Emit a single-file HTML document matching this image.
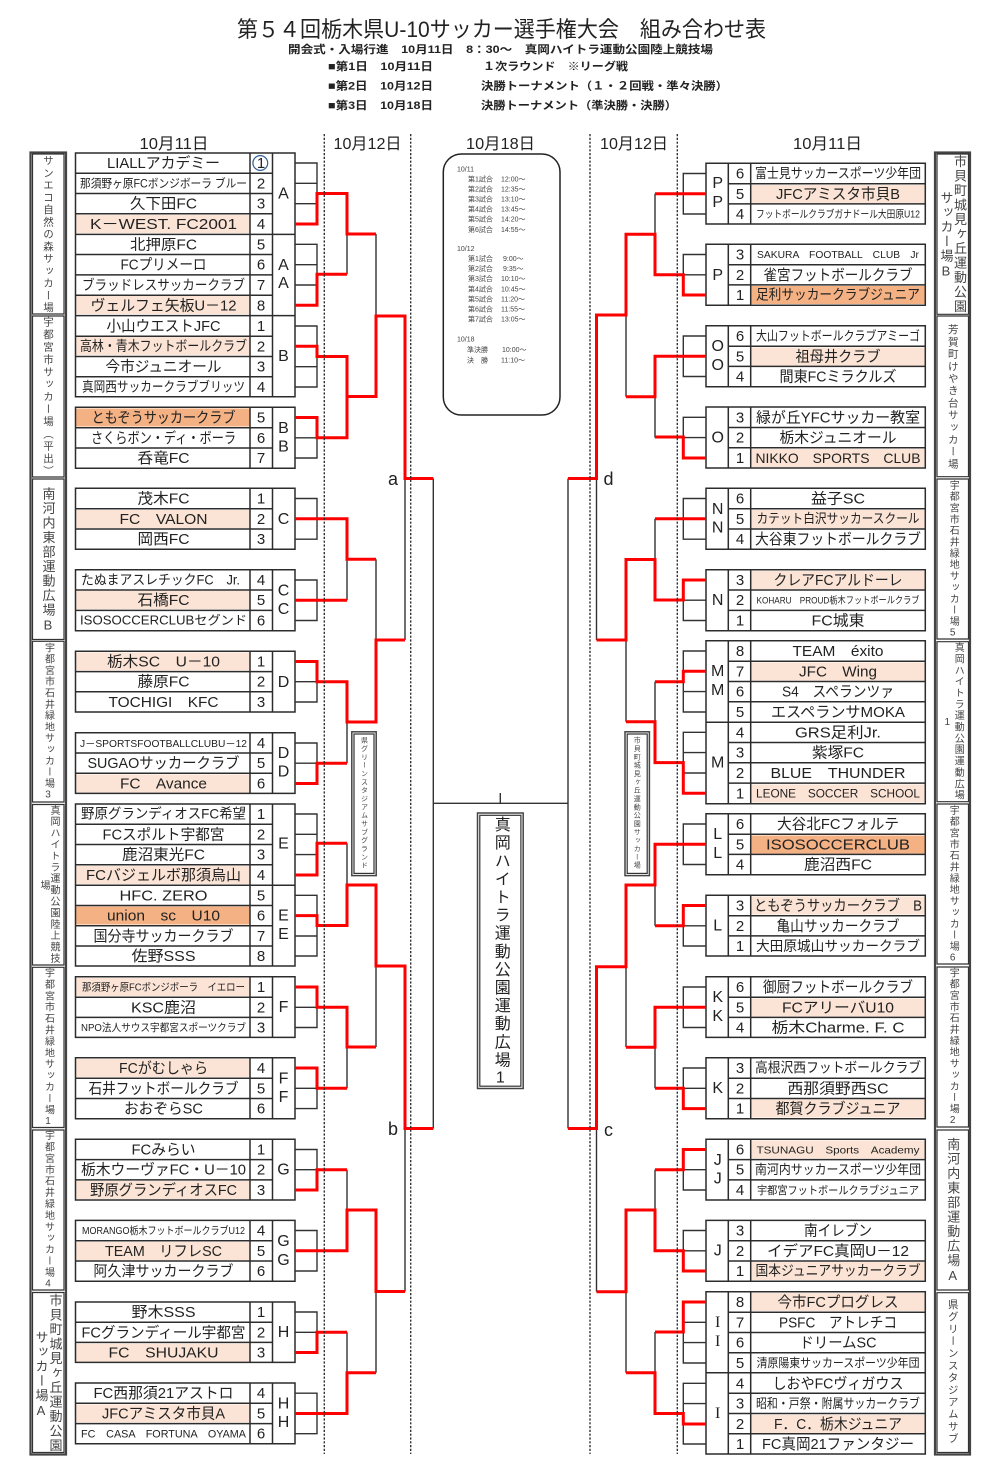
<!DOCTYPE html>
<html lang="ja"><head><meta charset="utf-8"><title>第54回栃木県U-10サッカー選手権大会 組み合わせ表</title>
<style>
html,body{margin:0;padding:0;background:#fff}
svg{display:block;font-family:"Liberation Sans","Noto Sans CJK JP",sans-serif}
text{fill:#222}
.c text{text-anchor:middle}
.b text{font-weight:700}
.v{writing-mode:vertical-rl;text-orientation:upright;fill:#444}
.k{fill:none;stroke:#333;stroke-width:1.4}
.r{fill:none;stroke:#f00;stroke-width:3}
.t{fill:none;stroke:#2c2c2c;stroke-width:1.5}
.d{stroke:#333;stroke-width:1.4;stroke-dasharray:2.2 1.6}
.s text{fill:#444}
</style></head><body>
<svg xmlns="http://www.w3.org/2000/svg" width="1000" height="1478" viewBox="0 0 1000 1478">
<rect width="1000" height="1478" fill="#fff"/>

<!-- header -->
<text x="237" y="37" font-size="22" textLength="529" lengthAdjust="spacingAndGlyphs">第５４回栃木県U-10サッカー選手権大会　組み合わせ表</text>
<g class="b" font-size="11">
<text x="288" y="53" textLength="425" lengthAdjust="spacingAndGlyphs">開会式・入場行進　10月11日　8：30～　真岡ハイトラ運動公園陸上競技場</text>
<text x="328" y="70" textLength="105" lengthAdjust="spacingAndGlyphs">■第1日　10月11日</text>
<text x="483" y="70" textLength="145" lengthAdjust="spacingAndGlyphs">１次ラウンド　※リーグ戦</text>
<text x="328" y="89.5" textLength="105" lengthAdjust="spacingAndGlyphs">■第2日　10月12日</text>
<text x="481" y="89.5" textLength="247" lengthAdjust="spacingAndGlyphs">決勝トーナメント（１・２回戦・準々決勝）</text>
<text x="328" y="109" textLength="105" lengthAdjust="spacingAndGlyphs">■第3日　10月18日</text>
<text x="481" y="109" textLength="196" lengthAdjust="spacingAndGlyphs">決勝トーナメント（準決勝・決勝）</text>
</g>
<g font-size="16">
<text x="139.5" y="149" textLength="69" lengthAdjust="spacingAndGlyphs">10月11日</text>
<text x="333.5" y="149" textLength="68" lengthAdjust="spacingAndGlyphs">10月12日</text>
<text x="466" y="149" textLength="69" lengthAdjust="spacingAndGlyphs">10月18日</text>
<text x="600" y="149" textLength="68" lengthAdjust="spacingAndGlyphs">10月12日</text>
<text x="793" y="149" textLength="69" lengthAdjust="spacingAndGlyphs">10月11日</text>
</g>

<!-- row fills -->
<g fill="#fbe4d5">
<rect x="76" y="215" width="174" height="18"/><rect x="76" y="296" width="174" height="18"/><rect x="76" y="337" width="174" height="18"/>
<rect x="76" y="510" width="174" height="18"/><rect x="76" y="591" width="174" height="18"/><rect x="76" y="652.5" width="174" height="18"/>
<rect x="76" y="774.5" width="174" height="18"/><rect x="76" y="866" width="174" height="18"/><rect x="76" y="978" width="174" height="18"/>
<rect x="76" y="1059" width="174" height="18"/><rect x="76" y="1181" width="174" height="18"/><rect x="76" y="1242" width="174" height="18"/>
<rect x="76" y="1343.5" width="174" height="18"/><rect x="76" y="1404.5" width="174" height="18"/>
<rect x="751" y="185" width="174" height="18"/><rect x="751" y="347.5" width="174" height="18"/><rect x="751" y="449" width="174" height="18"/>
<rect x="751" y="510" width="174" height="18"/><rect x="751" y="571" width="174" height="18"/><rect x="751" y="662.5" width="174" height="18"/>
<rect x="751" y="784.5" width="174" height="18"/><rect x="751" y="896.5" width="174" height="18"/><rect x="751" y="998.5" width="174" height="18"/>
<rect x="751" y="1099.5" width="174" height="18"/><rect x="751" y="1140.5" width="174" height="18"/><rect x="751" y="1262" width="174" height="18"/>
<rect x="751" y="1293" width="174" height="18"/><rect x="751" y="1415" width="174" height="18"/>
</g>
<g fill="#f4b183">
<rect x="76" y="408.5" width="174" height="18"/><rect x="76" y="906.5" width="174" height="18"/>
<rect x="751" y="286" width="174" height="18"/><rect x="751" y="835.5" width="174" height="18"/>
</g>

<!-- tables left -->
<path class="t" d="M75.5 153H295V315.6H75.5ZM75.5 234.4H295M250 153V315.6M272.5 153V315.6M75.5 173.2H272.5M75.5 193.5H272.5M75.5 213.8H272.5M75.5 254.5H272.5M75.5 274.9H272.5M75.5 295.2H272.5
M75.5 315.6H295V396.7H75.5ZM250 315.6V396.7M272.5 315.6V396.7M75.5 336.2H272.5M75.5 356.5H272.5M75.5 376.8H272.5
M75.5 407.3H295V468.3H75.5ZM250 407.3V468.3M272.5 407.3V468.3M75.5 427.7H272.5M75.5 448H272.5
M75.5 488.3H295V549.3H75.5ZM250 488.3V549.3M272.5 488.3V549.3M75.5 508.7H272.5M75.5 529H272.5
M75.5 569.8H295V630.7H75.5ZM250 569.8V630.7M272.5 569.8V630.7M75.5 590H272.5M75.5 610.4H272.5
M75.5 651.3H295V712H75.5ZM250 651.3V712M272.5 651.3V712M75.5 671.6H272.5M75.5 691.8H272.5
M75.5 732.8H295V793.4H75.5ZM250 732.8V793.4M272.5 732.8V793.4M75.5 753H272.5M75.5 773.3H272.5
M75.5 804H295V966H75.5ZM75.5 885.2H295M250 804V966M272.5 804V966M75.5 824.2H272.5M75.5 844.5H272.5M75.5 864.8H272.5M75.5 905.5H272.5M75.5 925.8H272.5M75.5 946H272.5
M75.5 976.8H295V1037.4H75.5ZM250 976.8V1037.4M272.5 976.8V1037.4M75.5 997.2H272.5M75.5 1017.4H272.5
M75.5 1057.8H295V1118.7H75.5ZM250 1057.8V1118.7M272.5 1057.8V1118.7M75.5 1078.2H272.5M75.5 1098.5H272.5
M75.5 1139.3H295V1200H75.5ZM250 1139.3V1200M272.5 1139.3V1200M75.5 1159.6H272.5M75.5 1179.9H272.5
M75.5 1220.4H295V1281.3H75.5ZM250 1220.4V1281.3M272.5 1220.4V1281.3M75.5 1240.7H272.5M75.5 1261H272.5
M75.5 1302H295V1362.4H75.5ZM250 1302V1362.4M272.5 1302V1362.4M75.5 1322.2H272.5M75.5 1342.4H272.5
M75.5 1383H295V1443.7H75.5ZM250 1383V1443.7M272.5 1383V1443.7M75.5 1403.3H272.5M75.5 1423.6H272.5"/>

<!-- tables right -->
<path class="t" d="M706 163.3H925.3V224H706ZM728.3 163.3V224M750.7 163.3V224M728.3 183.7H925.3M728.3 203.9H925.3
M706 244.3H925.3V305.3H706ZM728.3 244.3V305.3M750.7 244.3V305.3M728.3 264.7H925.3M728.3 284.9H925.3
M706 325.7H925.3V386.7H706ZM728.3 325.7V386.7M750.7 325.7V386.7M728.3 346.2H925.3M728.3 366.4H925.3
M706 407H925.3V468H706ZM728.3 407V468M750.7 407V468M728.3 427.5H925.3M728.3 447.8H925.3
M706 488.3H925.3V549.3H706ZM728.3 488.3V549.3M750.7 488.3V549.3M728.3 508.7H925.3M728.3 529H925.3
M706 569.8H925.3V630.7H706ZM728.3 569.8V630.7M750.7 569.8V630.7M728.3 590H925.3M728.3 610.4H925.3
M706 640.8H925.3V803.7H706ZM706 722.2H925.3M728.3 640.8V803.7M750.7 640.8V803.7M728.3 661.2H925.3M728.3 681.5H925.3M728.3 701.8H925.3M728.3 742.5H925.3M728.3 762.8H925.3M728.3 783.1H925.3
M706 813.8H925.3V874.7H706ZM728.3 813.8V874.7M750.7 813.8V874.7M728.3 834.2H925.3M728.3 854.4H925.3
M706 895.3H925.3V956H706ZM728.3 895.3V956M750.7 895.3V956M728.3 915.7H925.3M728.3 935.9H925.3
M706 976.8H925.3V1037.4H706ZM728.3 976.8V1037.4M750.7 976.8V1037.4M728.3 997.2H925.3M728.3 1017.4H925.3
M706 1057.8H925.3V1118.7H706ZM728.3 1057.8V1118.7M750.7 1057.8V1118.7M728.3 1078.2H925.3M728.3 1098.5H925.3
M706 1139.3H925.3V1200H706ZM728.3 1139.3V1200M750.7 1139.3V1200M728.3 1159.6H925.3M728.3 1179.9H925.3
M706 1220.4H925.3V1281.3H706ZM728.3 1220.4V1281.3M750.7 1220.4V1281.3M728.3 1240.7H925.3M728.3 1261H925.3
M706 1291.7H925.3V1454H706ZM706 1372.8H925.3M728.3 1291.7V1454M750.7 1291.7V1454M728.3 1312.2H925.3M728.3 1332.5H925.3M728.3 1352.8H925.3M728.3 1393.2H925.3M728.3 1413.5H925.3M728.3 1433.8H925.3"/>

<!-- black bracket lines -->
<path class="k" d="M295 163H317V224H295M295 183.3H317M295 203.7H317
M295 244.3H317V305.3H295M295 264.7H317M295 285H317
M295 326H317V387H295M295 346.3H317M295 366.7H317
M295 417.5H317V458H295M295 437.8H317
M295 498.5H317V539.2H295M295 518.8H317
M295 580H317V620.5H295M295 600.2H317
M295 661.5H317V702H295M295 681.7H317
M295 743H317V783.5H295M295 763.2H317
M295 814H317V875H295M295 834.3H317M295 854.6H317
M295 895.3H317V956H295M295 915.6H317M295 936H317
M295 987H317V1027.5H295M295 1007.3H317
M295 1068H317V1108.6H295M295 1088.3H317
M295 1149.5H317V1190H295M295 1169.7H317
M295 1230.5H317V1271H295M295 1250.8H317
M295 1312H317V1352.5H295M295 1332.3H317
M295 1393.2H317V1433.7H295M295 1413.5H317
M347 193.5V274.3M347 356.5V437.8M347 518.8V600.2M347 681.7V763.2M347 843.3V925.5M347 1007.3V1088.3M347 1169.7V1250.8M347 1332.3V1413.5
M376 234V396.5M376 559.3V722M376 885V1047M376 1210V1372.7
M405 316V640M405 966V1291.5
M433.3 478.5V1128.5M568 478.5V1128.5M433.3 803.3H568M500.3 793V803.3
M706 173.5H683.3V214H706M706 193.8H683.3
M706 254.5H683.3V295H706M706 274.8H683.3
M706 336H683.3V376.5H706M706 356.3H683.3
M706 417.3H683.3V458H706M706 437.6H683.3
M706 498.5H683.3V539.2H706M706 518.8H683.3
M706 580H683.3V620.5H706M706 600.2H683.3
M706 651H683.3V712H706M706 671.3H683.3M706 691.6H683.3
M706 732.3H683.3V793.3H706M706 752.6H683.3M706 773H683.3
M706 824H683.3V864.5H706M706 844.3H683.3
M706 905.5H683.3V946H706M706 925.8H683.3
M706 987H683.3V1027.5H706M706 1007.3H683.3
M706 1068H683.3V1108.6H706M706 1088.3H683.3
M706 1149.5H683.3V1190H706M706 1169.7H683.3
M706 1230.5H683.3V1271H706M706 1250.8H683.3
M706 1302H683.3V1363H706M706 1322.3H683.3M706 1342.6H683.3
M706 1383.3H683.3V1444H706M706 1403.6H683.3M706 1424H683.3
M655 193.8V274.8M655 356.3V437.6M655 518.8V600.2M655 681.7V762.6M655 844.3V925.8M655 1007.3V1088.3M655 1169.7V1250.8M655 1332V1413.5
M626 234.3V396.7M626 559.5V721.7M626 885V1047.3M626 1210V1372.7
M596.5 315V640M596.5 966.7V1291.7"/>

<!-- red lines -->
<path class="r" d="M295 224H317V193.5H347V234H376
M295 305.3H317V274.3H347
M295 346.3H317V356.5H347V396.5H376V316H405V478.5H433.3
M295 417.5H317V437.8H347V396.5
M295 518.8H347V559.3H376
M295 600.2H347
M295 661.5H317V681.7H347V722H376V640H405
M295 783.5H317V763.2H347
M295 875H317V843.3H347
M295 915.6H317V925.5H347V885H376V966H405V1128.5H433.3
M295 987H317V1007.3H347V1047H376
M295 1068H317V1088.3H347
M295 1190H317V1169.7H347
M295 1250.8H347V1210H376V1291.5H405
M295 1352.5H317V1332.3H347
M295 1413.5H347V1372.7H376
M706 193.8H655
M706 295H683.3V274.8H655V234.3H626V315H596.5V478.5H568
M706 356.3H655V396.7H626
M706 458H683.3V437H655
M706 518.8H655
M706 580H683.3V600H655V559.5H626V640H596.5
M706 671.3H683.3V681.7H655
M706 793.3H683.3V762.6H655V721.7H626
M706 844.3H655V885H626V966.7H596.5V1128.5H568
M706 905.5H683.3V925.8H655
M706 1007.3H655V1047.3H626
M706 1108.6H683.3V1088.3H655
M706 1149.5H683.3V1169.7H655
M706 1271H683.3V1250.8H655V1210H626V1291.7H596.5
M706 1302H683.3V1332H655
M706 1424H683.3V1413.5H655V1372.7H626"/>

<!-- dotted -->
<path class="d" d="M324.3 134V1454M410.7 134V1454M590 134V1454M677.3 134V1454"/>

<!-- left names -->
<g class="c" font-size="15">
<text x="163.5" y="168" textLength="113" lengthAdjust="spacingAndGlyphs">LIALLアカデミー</text>
<text x="163.5" y="187.3" font-size="12" textLength="167" lengthAdjust="spacingAndGlyphs">那須野ヶ原FCボンジボーラ ブルー</text>
<text x="163.5" y="208.7" textLength="67" lengthAdjust="spacingAndGlyphs">久下田FC</text>
<text x="163.5" y="229" textLength="147" lengthAdjust="spacingAndGlyphs">K－WEST. FC2001</text>
<text x="163.5" y="249.3" textLength="67" lengthAdjust="spacingAndGlyphs">北押原FC</text>
<text x="163.5" y="269.7" textLength="86" lengthAdjust="spacingAndGlyphs">FCプリメーロ</text>
<text x="163.5" y="290" font-size="14" textLength="163" lengthAdjust="spacingAndGlyphs">ブラッドレスサッカークラブ</text>
<text x="163.5" y="310.3" textLength="146" lengthAdjust="spacingAndGlyphs">ヴェルフェ矢板U－12</text>
<text x="163.5" y="331" textLength="114" lengthAdjust="spacingAndGlyphs">小山ウエストJFC</text>
<text x="163.5" y="351" font-size="14" textLength="167" lengthAdjust="spacingAndGlyphs">高林・青木フットボールクラブ</text>
<text x="163.5" y="371.7" textLength="116" lengthAdjust="spacingAndGlyphs">今市ジュニオール</text>
<text x="163.5" y="391.5" font-size="13.5" textLength="163" lengthAdjust="spacingAndGlyphs">真岡西サッカークラブブリッツ</text>
<text x="163.5" y="422.5" textLength="144" lengthAdjust="spacingAndGlyphs">ともぞうサッカークラブ</text>
<text x="163.5" y="442.8" textLength="145" lengthAdjust="spacingAndGlyphs">さくらボン・ディ・ボーラ</text>
<text x="163.5" y="463" textLength="52" lengthAdjust="spacingAndGlyphs">呑竜FC</text>
<text x="163.5" y="503.5" textLength="52" lengthAdjust="spacingAndGlyphs">茂木FC</text>
<text x="163.5" y="523.8" textLength="88" lengthAdjust="spacingAndGlyphs">FC　VALON</text>
<text x="163.5" y="544.2" textLength="52" lengthAdjust="spacingAndGlyphs">岡西FC</text>
<text x="160.5" y="584.5" font-size="13.5" textLength="159" lengthAdjust="spacingAndGlyphs">たぬまアスレチックFC　Jr.</text>
<text x="163.5" y="605.2" textLength="52" lengthAdjust="spacingAndGlyphs">石橋FC</text>
<text x="163.5" y="624.5" font-size="12.5" textLength="167" lengthAdjust="spacingAndGlyphs">ISOSOCCERCLUBセグンド</text>
<text x="163.5" y="666.5" textLength="113" lengthAdjust="spacingAndGlyphs">栃木SC　U－10</text>
<text x="163.5" y="686.7" textLength="52" lengthAdjust="spacingAndGlyphs">藤原FC</text>
<text x="163.5" y="707" textLength="110" lengthAdjust="spacingAndGlyphs">TOCHIGI　KFC</text>
<text x="163.5" y="746.8" font-size="10.5" textLength="167" lengthAdjust="spacingAndGlyphs">J－SPORTSFOOTBALLCLUBU－12</text>
<text x="163.5" y="768.2" textLength="152" lengthAdjust="spacingAndGlyphs">SUGAOサッカークラブ</text>
<text x="163.5" y="788.5" textLength="87" lengthAdjust="spacingAndGlyphs">FC　Avance</text>
<text x="163.5" y="818.7" font-size="14" textLength="165" lengthAdjust="spacingAndGlyphs">野原グランディオスFC希望</text>
<text x="163.5" y="839.3" textLength="122" lengthAdjust="spacingAndGlyphs">FCスポルト宇都宮</text>
<text x="163.5" y="859.6" textLength="83" lengthAdjust="spacingAndGlyphs">鹿沼東光FC</text>
<text x="163.5" y="880" textLength="155" lengthAdjust="spacingAndGlyphs">FCバジェルボ那須烏山</text>
<text x="163.5" y="900.3" textLength="88" lengthAdjust="spacingAndGlyphs">HFC. ZERO</text>
<text x="163.5" y="920.6" textLength="113" lengthAdjust="spacingAndGlyphs">union　sc　U10</text>
<text x="163.5" y="941" textLength="140" lengthAdjust="spacingAndGlyphs">国分寺サッカークラブ</text>
<text x="163.5" y="961" textLength="64" lengthAdjust="spacingAndGlyphs">佐野SSS</text>
<text x="163.5" y="990.5" font-size="10.5" textLength="163" lengthAdjust="spacingAndGlyphs">那須野ヶ原FCボンジボーラ　イエロー</text>
<text x="163.5" y="1012.3" textLength="65" lengthAdjust="spacingAndGlyphs">KSC鹿沼</text>
<text x="163.5" y="1031" font-size="10.5" textLength="165" lengthAdjust="spacingAndGlyphs">NPO法人サウス宇都宮スポーツクラブ</text>
<text x="163.5" y="1073" textLength="89" lengthAdjust="spacingAndGlyphs">FCがむしゃら</text>
<text x="163.5" y="1093.3" textLength="150" lengthAdjust="spacingAndGlyphs">石井フットボールクラブ</text>
<text x="163.5" y="1113.6" textLength="79" lengthAdjust="spacingAndGlyphs">おおぞらSC</text>
<text x="163.5" y="1154.5" textLength="64" lengthAdjust="spacingAndGlyphs">FCみらい</text>
<text x="163.5" y="1174.7" textLength="165" lengthAdjust="spacingAndGlyphs">栃木ウーヴァFC・U－10</text>
<text x="163.5" y="1195" textLength="147" lengthAdjust="spacingAndGlyphs">野原グランディオスFC</text>
<text x="163.5" y="1234" font-size="10.5" textLength="163" lengthAdjust="spacingAndGlyphs">MORANGO栃木フットボールクラブU12</text>
<text x="163.5" y="1255.8" textLength="117" lengthAdjust="spacingAndGlyphs">TEAM　リフレSC</text>
<text x="163.5" y="1276" textLength="140" lengthAdjust="spacingAndGlyphs">阿久津サッカークラブ</text>
<text x="163.5" y="1317" textLength="64" lengthAdjust="spacingAndGlyphs">野木SSS</text>
<text x="163.5" y="1337.3" textLength="164" lengthAdjust="spacingAndGlyphs">FCグランディール宇都宮</text>
<text x="163.5" y="1357.5" textLength="110" lengthAdjust="spacingAndGlyphs">FC　SHUJAKU</text>
<text x="163.5" y="1398.2" textLength="140" lengthAdjust="spacingAndGlyphs">FC西那須21アストロ</text>
<text x="163.5" y="1418.5" textLength="123" lengthAdjust="spacingAndGlyphs">JFCアミスタ市貝A</text>
<text x="163.5" y="1437.5" font-size="11" textLength="165" lengthAdjust="spacingAndGlyphs">FC　CASA　FORTUNA　OYAMA</text>

<!-- right names -->
<text x="838" y="178" font-size="13.5" textLength="166" lengthAdjust="spacingAndGlyphs">富士見サッカースポーツ少年団</text>
<text x="838" y="198.8" textLength="124" lengthAdjust="spacingAndGlyphs">JFCアミスタ市貝B</text>
<text x="838" y="217.5" font-size="10.5" textLength="164" lengthAdjust="spacingAndGlyphs">フットボールクラブガナドール大田原U12</text>
<text x="838" y="258" font-size="10" textLength="162" lengthAdjust="spacingAndGlyphs">SAKURA　FOOTBALL　CLUB　Jr</text>
<text x="838" y="279.8" textLength="149" lengthAdjust="spacingAndGlyphs">雀宮フットボールクラブ</text>
<text x="838" y="299.5" font-size="14" textLength="164" lengthAdjust="spacingAndGlyphs">足利サッカークラブジュニア</text>
<text x="838" y="340.3" font-size="13" textLength="164" lengthAdjust="spacingAndGlyphs">大山フットボールクラブアミーゴ</text>
<text x="838" y="361.3" textLength="85" lengthAdjust="spacingAndGlyphs">祖母井クラブ</text>
<text x="838" y="381.5" textLength="117" lengthAdjust="spacingAndGlyphs">間東FCミラクルズ</text>
<text x="838" y="422.3" textLength="164" lengthAdjust="spacingAndGlyphs">緑が丘YFCサッカー教室</text>
<text x="838" y="442.6" textLength="117" lengthAdjust="spacingAndGlyphs">栃木ジュニオール</text>
<text x="838" y="463" font-size="14" textLength="165" lengthAdjust="spacingAndGlyphs">NIKKO　SPORTS　CLUB</text>
<text x="838" y="503.5" textLength="54" lengthAdjust="spacingAndGlyphs">益子SC</text>
<text x="838" y="523" font-size="13" textLength="163" lengthAdjust="spacingAndGlyphs">カテット白沢サッカースクール</text>
<text x="838" y="544.2" textLength="166" lengthAdjust="spacingAndGlyphs">大谷東フットボールクラブ</text>
<text x="838" y="585" textLength="129" lengthAdjust="spacingAndGlyphs">クレアFCアルドーレ</text>
<text x="838" y="603.5" font-size="9.5" textLength="163" lengthAdjust="spacingAndGlyphs">KOHARU　PROUD栃木フットボールクラブ</text>
<text x="838" y="625.5" textLength="53" lengthAdjust="spacingAndGlyphs">FC城東</text>
<text x="838" y="656" textLength="91" lengthAdjust="spacingAndGlyphs">TEAM　éxito</text>
<text x="838" y="676.3" textLength="78" lengthAdjust="spacingAndGlyphs">JFC　Wing</text>
<text x="838" y="696.6" textLength="112" lengthAdjust="spacingAndGlyphs">S4　スペランツァ</text>
<text x="838" y="717" textLength="134" lengthAdjust="spacingAndGlyphs">エスペランサMOKA</text>
<text x="838" y="737.3" textLength="86" lengthAdjust="spacingAndGlyphs">GRS足利Jr.</text>
<text x="838" y="757.6" textLength="52" lengthAdjust="spacingAndGlyphs">紫塚FC</text>
<text x="838" y="778" textLength="135" lengthAdjust="spacingAndGlyphs">BLUE　THUNDER</text>
<text x="838" y="797.3" font-size="12" textLength="164" lengthAdjust="spacingAndGlyphs">LEONE　SOCCER　SCHOOL</text>
<text x="838" y="829" textLength="122" lengthAdjust="spacingAndGlyphs">大谷北FCフォルテ</text>
<text x="838" y="849.3" textLength="144" lengthAdjust="spacingAndGlyphs">ISOSOCCERCLUB</text>
<text x="838" y="869.5" textLength="68" lengthAdjust="spacingAndGlyphs">鹿沼西FC</text>
<text x="838" y="910.5" textLength="168" lengthAdjust="spacingAndGlyphs">ともぞうサッカークラブ　B</text>
<text x="838" y="930.8" textLength="123" lengthAdjust="spacingAndGlyphs">亀山サッカークラブ</text>
<text x="838" y="951" font-size="14" textLength="164" lengthAdjust="spacingAndGlyphs">大田原城山サッカークラブ</text>
<text x="838" y="992" textLength="150" lengthAdjust="spacingAndGlyphs">御厨フットボールクラブ</text>
<text x="838" y="1012.3" textLength="112" lengthAdjust="spacingAndGlyphs">FCアリーバU10</text>
<text x="838" y="1032.5" textLength="133" lengthAdjust="spacingAndGlyphs">栃木Charme. F. C</text>
<text x="838" y="1072.5" font-size="14" textLength="166" lengthAdjust="spacingAndGlyphs">高根沢西フットボールクラブ</text>
<text x="838" y="1093.3" textLength="101" lengthAdjust="spacingAndGlyphs">西那須野西SC</text>
<text x="838" y="1113.6" textLength="125" lengthAdjust="spacingAndGlyphs">都賀クラブジュニア</text>
<text x="838" y="1153.3" font-size="10.5" textLength="163" lengthAdjust="spacingAndGlyphs">TSUNAGU　Sports　Academy</text>
<text x="838" y="1174" font-size="13" textLength="166" lengthAdjust="spacingAndGlyphs">南河内サッカースポーツ少年団</text>
<text x="838" y="1193.8" font-size="11" textLength="162" lengthAdjust="spacingAndGlyphs">宇都宮フットボールクラブジュニア</text>
<text x="838" y="1235.5" textLength="68" lengthAdjust="spacingAndGlyphs">南イレブン</text>
<text x="838" y="1255.8" textLength="142" lengthAdjust="spacingAndGlyphs">イデアFC真岡U－12</text>
<text x="838" y="1275.5" font-size="14" textLength="165" lengthAdjust="spacingAndGlyphs">国本ジュニアサッカークラブ</text>
<text x="838" y="1307" textLength="121" lengthAdjust="spacingAndGlyphs">今市FCプログレス</text>
<text x="838" y="1327.3" textLength="118" lengthAdjust="spacingAndGlyphs">PSFC　アトレチコ</text>
<text x="838" y="1347.6" textLength="77" lengthAdjust="spacingAndGlyphs">ドリームSC</text>
<text x="838" y="1367" font-size="12" textLength="163" lengthAdjust="spacingAndGlyphs">清原陽東サッカースポーツ少年団</text>
<text x="838" y="1388.3" textLength="131" lengthAdjust="spacingAndGlyphs">しおやFCヴィガウス</text>
<text x="838" y="1408" font-size="13" textLength="164" lengthAdjust="spacingAndGlyphs">昭和・戸祭・附属サッカークラブ</text>
<text x="838" y="1429" textLength="128" lengthAdjust="spacingAndGlyphs">F．C．栃木ジュニア</text>
<text x="838" y="1449" textLength="152" lengthAdjust="spacingAndGlyphs">FC真岡21ファンタジー</text>
</g>

<!-- left numbers -->
<g class="c" font-size="15">
<circle cx="260.3" cy="163" r="7.4" fill="none" stroke="#2f5f96" stroke-width="1.2"/>
<text x="261" y="168">1</text><text x="261" y="188.3">2</text><text x="261" y="208.7">3</text><text x="261" y="229">4</text><text x="261" y="249.3">5</text><text x="261" y="269.7">6</text><text x="261" y="290">7</text><text x="261" y="310.3">8</text>
<text x="261" y="331">1</text><text x="261" y="351.3">2</text><text x="261" y="371.7">3</text><text x="261" y="392">4</text>
<text x="261" y="422.5">5</text><text x="261" y="442.8">6</text><text x="261" y="463">7</text>
<text x="261" y="503.5">1</text><text x="261" y="523.8">2</text><text x="261" y="544.2">3</text>
<text x="261" y="585">4</text><text x="261" y="605.2">5</text><text x="261" y="625.5">6</text>
<text x="261" y="666.5">1</text><text x="261" y="686.7">2</text><text x="261" y="707">3</text>
<text x="261" y="748">4</text><text x="261" y="768.2">5</text><text x="261" y="788.5">6</text>
<text x="261" y="819">1</text><text x="261" y="839.3">2</text><text x="261" y="859.6">3</text><text x="261" y="880">4</text><text x="261" y="900.3">5</text><text x="261" y="920.6">6</text><text x="261" y="941">7</text><text x="261" y="961">8</text>
<text x="261" y="992">1</text><text x="261" y="1012.3">2</text><text x="261" y="1032.5">3</text>
<text x="261" y="1073">4</text><text x="261" y="1093.3">5</text><text x="261" y="1113.6">6</text>
<text x="261" y="1154.5">1</text><text x="261" y="1174.7">2</text><text x="261" y="1195">3</text>
<text x="261" y="1235.5">4</text><text x="261" y="1255.8">5</text><text x="261" y="1276">6</text>
<text x="261" y="1317">1</text><text x="261" y="1337.3">2</text><text x="261" y="1357.5">3</text>
<text x="261" y="1398.2">4</text><text x="261" y="1418.5">5</text><text x="261" y="1438.7">6</text>

<!-- right numbers -->
<text x="740" y="178.5">6</text><text x="740" y="198.8">5</text><text x="740" y="219">4</text>
<text x="740" y="259.5">3</text><text x="740" y="279.8">2</text><text x="740" y="300">1</text>
<text x="740" y="341">6</text><text x="740" y="361.3">5</text><text x="740" y="381.5">4</text>
<text x="740" y="422.3">3</text><text x="740" y="442.6">2</text><text x="740" y="463">1</text>
<text x="740" y="503.5">6</text><text x="740" y="523.8">5</text><text x="740" y="544.2">4</text>
<text x="740" y="585">3</text><text x="740" y="605.2">2</text><text x="740" y="625.5">1</text>
<text x="740" y="656">8</text><text x="740" y="676.3">7</text><text x="740" y="696.6">6</text><text x="740" y="717">5</text><text x="740" y="737.3">4</text><text x="740" y="757.6">3</text><text x="740" y="778">2</text><text x="740" y="798.3">1</text>
<text x="740" y="829">6</text><text x="740" y="849.3">5</text><text x="740" y="869.5">4</text>
<text x="740" y="910.5">3</text><text x="740" y="930.8">2</text><text x="740" y="951">1</text>
<text x="740" y="992">6</text><text x="740" y="1012.3">5</text><text x="740" y="1032.5">4</text>
<text x="740" y="1073">3</text><text x="740" y="1093.3">2</text><text x="740" y="1113.6">1</text>
<text x="740" y="1154.5">6</text><text x="740" y="1174.7">5</text><text x="740" y="1195">4</text>
<text x="740" y="1235.5">3</text><text x="740" y="1255.8">2</text><text x="740" y="1276">1</text>
<text x="740" y="1307">8</text><text x="740" y="1327.3">7</text><text x="740" y="1347.6">6</text><text x="740" y="1368">5</text><text x="740" y="1388.3">4</text><text x="740" y="1408.6">3</text><text x="740" y="1429">2</text><text x="740" y="1449">1</text>

<!-- group letters -->
<g font-size="16">
<text x="283.5" y="198.5">A</text><text x="283.5" y="270">A</text><text x="283.5" y="288">A</text>
<text x="283.5" y="361">B</text><text x="283.5" y="433">B</text><text x="283.5" y="451.5">B</text>
<text x="283.5" y="524">C</text><text x="283.5" y="595.5">C</text><text x="283.5" y="614">C</text>
<text x="283.5" y="687">D</text><text x="283.5" y="758">D</text><text x="283.5" y="776.5">D</text>
<text x="283.5" y="848.5">E</text><text x="283.5" y="920.5">E</text><text x="283.5" y="939">E</text>
<text x="283.5" y="1012">F</text><text x="283.5" y="1083.5">F</text><text x="283.5" y="1102">F</text>
<text x="283.5" y="1174.5">G</text><text x="283.5" y="1246">G</text><text x="283.5" y="1265">G</text>
<text x="283.5" y="1337">H</text><text x="283.5" y="1408.5">H</text><text x="283.5" y="1427">H</text>
<text x="717.7" y="188">P</text><text x="717.7" y="207">P</text><text x="717.7" y="280">P</text>
<text x="717.7" y="351">O</text><text x="717.7" y="370">O</text><text x="717.7" y="442.5">O</text>
<text x="717.7" y="514">N</text><text x="717.7" y="532.5">N</text><text x="717.7" y="605">N</text>
<text x="717.7" y="676">M</text><text x="717.7" y="695">M</text><text x="717.7" y="767.5">M</text>
<text x="717.7" y="839">L</text><text x="717.7" y="858">L</text><text x="717.7" y="930.5">L</text>
<text x="717.7" y="1002">K</text><text x="717.7" y="1021">K</text><text x="717.7" y="1093">K</text>
<text x="717.7" y="1165">J</text><text x="717.7" y="1183.5">J</text><text x="717.7" y="1255.5">J</text>
<text x="717.7" y="1327" font-family="Liberation Serif">I</text><text x="717.7" y="1346" font-family="Liberation Serif">I</text><text x="717.7" y="1418" font-family="Liberation Serif">I</text>
</g>

<!-- round labels -->
<g font-size="18">
<text x="393" y="485">a</text><text x="393" y="1135">b</text><text x="608.5" y="485">d</text><text x="608.5" y="1136">c</text>
</g>
</g>

<!-- schedule box -->
<rect x="443.3" y="154" width="116.7" height="261" rx="18" fill="#fff" stroke="#222" stroke-width="1.5"/>
<g class="s" font-size="7">
<text x="457" y="171.5">10/11</text>
<text x="468" y="181.5">第1試合</text><text x="501" y="181.5">12:00～</text>
<text x="468" y="191.5">第2試合</text><text x="501" y="191.5">12:35～</text>
<text x="468" y="201.5">第3試合</text><text x="501" y="201.5">13:10～</text>
<text x="468" y="211.5">第4試合</text><text x="501" y="211.5">13:45～</text>
<text x="468" y="221.5">第5試合</text><text x="501" y="221.5">14:20～</text>
<text x="468" y="232">第6試合</text><text x="501" y="232">14:55～</text>
<text x="457" y="251">10/12</text>
<text x="468" y="261">第1試合</text><text x="503" y="261">9:00～</text>
<text x="468" y="271">第2試合</text><text x="503" y="271">9:35～</text>
<text x="468" y="281">第3試合</text><text x="501" y="281">10:10～</text>
<text x="468" y="291.5">第4試合</text><text x="501" y="291.5">10:45～</text>
<text x="468" y="301.5">第5試合</text><text x="501" y="301.5">11:20～</text>
<text x="468" y="311.5">第6試合</text><text x="501" y="311.5">11:55～</text>
<text x="468" y="321.5">第7試合</text><text x="501" y="321.5">13:05～</text>
<text x="457" y="341.5">10/18</text>
<text x="467" y="352">準決勝</text><text x="502" y="352">10:00～</text>
<text x="467" y="362.5">決　勝</text><text x="501" y="362.5">11:10～</text>
</g>

<!-- venue frames -->
<rect x="30.5" y="152.5" width="35.5" height="1302" fill="#fff" stroke="#444" stroke-width="2.2"/>
<rect x="935" y="152.5" width="35" height="1302" fill="#fff" stroke="#444" stroke-width="2.2"/>
<path fill="none" stroke="#333" stroke-width="1.2" d="M32.5 154H64V314H32.5ZM32.5 316H64V477H32.5ZM32.5 479H64V639.5H32.5ZM32.5 641.3H64V802H32.5ZM32.5 804.5H64V965H32.5ZM32.5 967.3H64V1127.5H32.5ZM32.5 1130H64V1290H32.5ZM32.5 1292.5H64V1452.5H32.5Z
M937 154H968.5V314.3H937ZM937 316H968.5V476.7H937ZM937 479H968.5V639H937ZM937 641.7H968.5V801.7H937ZM937 804H968.5V964H937ZM937 967H968.5V1127H937ZM937 1130H968.5V1290H937ZM937 1292.7H968.5V1452.5H937Z"/>

<!-- venue text -->
<text class="v" x="48" y="155" font-size="10.5" letter-spacing="1.75">サンエコ自然の森サッカー場</text>
<text class="v" x="48" y="316.5" font-size="10.5" letter-spacing="1.9">宇都宮市サッカー場（平出）</text>
<text class="v" x="48" y="487" font-size="13" letter-spacing="1.5">南河内東部運動広場B</text>
<text class="v" x="48" y="642.5" font-size="10" letter-spacing="1.3">宇都宮市石井緑地サッカー場3</text>
<text class="v" x="53.5" y="805" font-size="10" letter-spacing="1.4">真岡ハイトラ運動公園陸上競技</text>
<text class="v" x="43.5" y="880" font-size="10">場</text>
<text class="v" x="48" y="967.7" font-size="10" letter-spacing="1.4">宇都宮市石井緑地サッカー場1</text>
<text class="v" x="48" y="1130.3" font-size="10" letter-spacing="1.4">宇都宮市石井緑地サッカー場4</text>
<text class="v" x="55" y="1293.5" font-size="13" letter-spacing="1.5">市貝町城見ヶ丘運動公園</text>
<text class="v" x="41" y="1330.5" font-size="13" letter-spacing="1.5">サッカー場A</text>
<text class="v" x="959.5" y="154.5" font-size="13" letter-spacing="1.5">市貝町城見ヶ丘運動公園</text>
<text class="v" x="946" y="191" font-size="13" letter-spacing="1.5">サッカー場B</text>
<text class="v" x="952.7" y="324" font-size="10.5" letter-spacing="1.7">芳賀町けやき台サッカー場</text>
<text class="v" x="952.7" y="480" font-size="10" letter-spacing="1.35">宇都宮市石井緑地サッカー場5</text>
<text class="v" x="957.7" y="642.3" font-size="10" letter-spacing="1.35">真岡ハイトラ運動公園運動広場</text>
<text class="v" x="947.3" y="717" font-size="10">1</text>
<text class="v" x="952.7" y="805" font-size="10" letter-spacing="1.35">宇都宮市石井緑地サッカー場6</text>
<text class="v" x="952.7" y="967.5" font-size="10" letter-spacing="1.35">宇都宮市石井緑地サッカー場2</text>
<text class="v" x="952.7" y="1137.5" font-size="13" letter-spacing="1.5">南河内東部運動広場A</text>
<text class="v" x="952.7" y="1298.7" font-size="10.5" letter-spacing="1.7">県グリーンスタジアムサブ</text>

<!-- small venue boxes -->
<rect x="351.8" y="731.8" width="24.4" height="143.8" fill="#fff" stroke="#444" stroke-width="1.5"/>
<rect x="354" y="734" width="20" height="139.4" fill="none" stroke="#333" stroke-width="1.2"/>
<text class="v" x="364" y="736.5" font-size="7" letter-spacing="1.33">県グリーンスタジアムサブグランド</text>
<rect x="625" y="731.8" width="24.4" height="143.8" fill="#fff" stroke="#444" stroke-width="1.5"/>
<rect x="627.2" y="734" width="20" height="139.4" fill="none" stroke="#333" stroke-width="1.2"/>
<text class="v" x="636.7" y="736.5" font-size="7" letter-spacing="1.33">市貝町城見ヶ丘運動公園サッカー場</text>
<rect x="477.5" y="813" width="45.7" height="275.5" fill="#fff" stroke="#444" stroke-width="1.5"/>
<rect x="479.8" y="815.3" width="41.1" height="270.9" fill="none" stroke="#333" stroke-width="1.2"/>
<text class="v" x="500.3" y="816" font-size="16" letter-spacing="2.1" style="fill:#222">真岡ハイトラ運動公園運動広場1</text>
</svg>
</body></html>
